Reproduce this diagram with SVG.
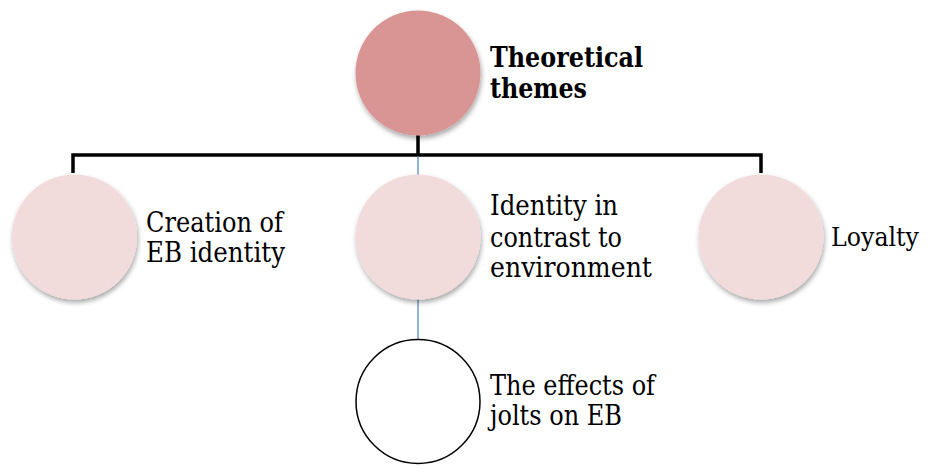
<svg xmlns="http://www.w3.org/2000/svg" width="929" height="466" viewBox="0 0 929 466">
<defs>
<filter id="sh" x="-20%" y="-20%" width="140%" height="150%">
<feDropShadow dx="1" dy="3" stdDeviation="2.5" flood-color="#000" flood-opacity="0.35"/>
</filter>
</defs>
<style>
.t{font-family:"DejaVu Serif","Liberation Serif",serif;font-size:27px;fill:#000}
.b{font-weight:bold}
.root{fill:#d99594;filter:url(#sh)}
.child{fill:#f2dbdb;filter:url(#sh)}
.leaf{fill:#fff;stroke:#000;stroke-width:1.5}
.k{stroke:#000;stroke-width:3.5;fill:none}
.bl{stroke:#4f81bd;stroke-width:1.2;fill:none}
</style>
<g id="connectors">
<path class="k" d="M418 135 V155 M73 173 V155 H761 V173"/>
<path class="bl" d="M418 156 V175 M418 299 V339"/>
</g>
<g id="n-root">
<circle class="root" cx="418" cy="73" r="62.5"/>
<text class="t b" x="490" y="66.5" textLength="153" lengthAdjust="spacingAndGlyphs">Theoretical</text>
<text class="t b" x="490" y="98" textLength="97" lengthAdjust="spacingAndGlyphs">themes</text>
</g>
<g id="n-creation">
<circle class="child" cx="74.5" cy="237" r="62.5"/>
<text class="t" x="146" y="232" textLength="137" lengthAdjust="spacingAndGlyphs">Creation of</text>
<text class="t" x="146" y="262" textLength="139" lengthAdjust="spacingAndGlyphs">EB identity</text>
</g>
<g id="n-identity">
<circle class="child" cx="418" cy="237" r="62.5"/>
<text class="t" x="490" y="215" textLength="128" lengthAdjust="spacingAndGlyphs">Identity in</text>
<text class="t" x="490" y="246.5" textLength="132" lengthAdjust="spacingAndGlyphs">contrast to</text>
<text class="t" x="490" y="277" textLength="162" lengthAdjust="spacingAndGlyphs">environment</text>
</g>
<g id="n-loyalty">
<circle class="child" cx="761" cy="237" r="62.5"/>
<text class="t" x="831" y="245.5" style="font-size:26px" textLength="88" lengthAdjust="spacingAndGlyphs">Loyalty</text>
</g>
<g id="n-jolts">
<circle class="leaf" cx="418" cy="401.5" r="62"/>
<text class="t" x="490" y="395" textLength="165" lengthAdjust="spacingAndGlyphs">The effects of</text>
<text class="t" x="490" y="425" textLength="132" lengthAdjust="spacingAndGlyphs">jolts on EB</text>
</g>
</svg>
